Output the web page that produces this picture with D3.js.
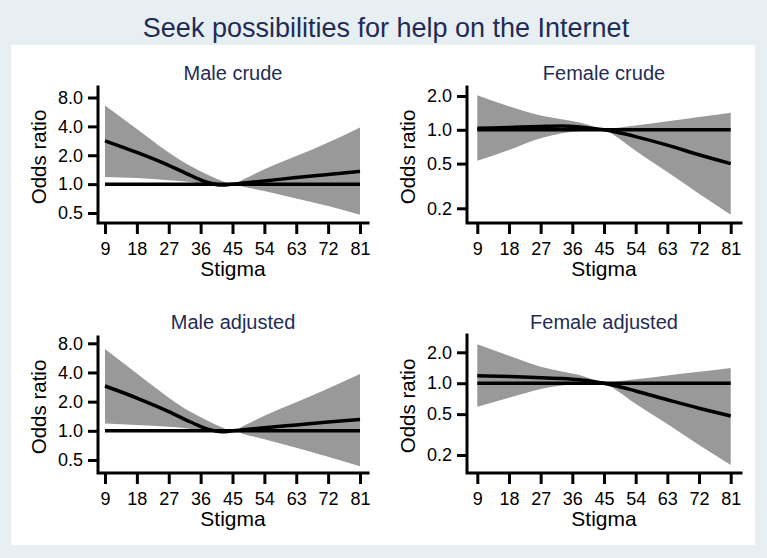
<!DOCTYPE html>
<html>
<head>
<meta charset="utf-8">
<script src="https://cdn.jsdelivr.net/npm/d3@7"></script>
<style>
  html, body { margin: 0; padding: 0; background: #e8eff2; }
  svg { display: block; }
  text { font-family: "Liberation Sans", Arial, Helvetica, sans-serif; }
</style>
</head>
<body>
<svg id="chart" width="767" height="558"></svg>
<script>
// ---------------- data ----------------
const mainTitle = "Seek possibilities for help on the Internet";
const panelTitles = ["Male crude", "Female crude", "Male adjusted", "Female adjusted"];
const xTicks = [9, 18, 27, 36, 45, 54, 63, 72, 81];
const maleYTicks = [0.5, 1, 2, 4, 8];
const femaleYTicks = [0.2, 0.5, 1, 2];
const stigma = [9, 18, 27, 33, 38, 42, 45, 48, 54, 63, 72, 81];

const maleCrudeOR = [2.83, 2.14, 1.57, 1.24, 1.04, 0.98, 1.0, 1.026, 1.08, 1.17, 1.26, 1.36];
const maleCrudeHi = [6.6, 3.76, 2.14, 1.55, 1.25, 1.08, 1.0, 1.12, 1.43, 1.96, 2.72, 3.9];
const maleCrudeLo = [1.19, 1.155, 1.1, 1.05, 0.99, 0.96, 1.0, 0.94, 0.85, 0.71, 0.59, 0.48];

const femaleCrudeOR = [1.03, 1.05, 1.07, 1.08, 1.06, 1.03, 1.0, 0.96, 0.87, 0.73, 0.6, 0.5];
const femaleCrudeHi = [2.03, 1.62, 1.34, 1.24, 1.16, 1.07, 1.0, 1.03, 1.09, 1.19, 1.3, 1.42];
const femaleCrudeLo = [0.53, 0.66, 0.84, 0.93, 0.97, 0.99, 1.0, 0.89, 0.65, 0.42, 0.27, 0.175];

const maleAdjOR = [2.9, 2.18, 1.58, 1.24, 1.04, 0.98, 1.0, 1.025, 1.075, 1.15, 1.23, 1.31];
const maleAdjHi = [7.0, 3.9, 2.2, 1.58, 1.27, 1.09, 1.0, 1.12, 1.43, 1.97, 2.73, 3.85];
const maleAdjLo = [1.19, 1.15, 1.1, 1.05, 0.99, 0.96, 1.0, 0.93, 0.82, 0.67, 0.54, 0.43];

const femaleAdjOR = [1.18, 1.16, 1.13, 1.11, 1.08, 1.04, 1.0, 0.95, 0.84, 0.69, 0.57, 0.48];
const femaleAdjHi = [2.39, 1.85, 1.45, 1.3, 1.2, 1.08, 1.0, 1.03, 1.09, 1.19, 1.29, 1.41];
const femaleAdjLo = [0.59, 0.72, 0.88, 0.95, 0.98, 0.99, 1.0, 0.88, 0.63, 0.4, 0.25, 0.16];

// ---------------- layout ----------------
const svg = d3.select("#chart");
const W = 767, H = 558;
const titleColor = "#1f2c56";

svg.append("rect").attr("x", 0).attr("y", 0).attr("width", W).attr("height", H).attr("fill", "#e8eff2");
svg.append("rect").attr("x", 11).attr("y", 45).attr("width", 744).attr("height", 500).attr("fill", "#ffffff");

svg.append("text")
  .attr("x", 386).attr("y", 37)
  .attr("text-anchor", "middle")
  .attr("fill", titleColor)
  .style("font-size", "27px")
  .text(mainTitle);

const panels = [
  { title: panelTitles[0], or: maleCrudeOR, hi: maleCrudeHi, lo: maleCrudeLo, yTicks: maleYTicks,
    axL: 98, axR: 368, x9: 105, x81: 360, top: 87, bot: 223, yLo: 0.5, yLoPx: 213, yHi: 8, yHiPx: 97.5, titleY: 80, labX: 39 },
  { title: panelTitles[1], or: femaleCrudeOR, hi: femaleCrudeHi, lo: femaleCrudeLo, yTicks: femaleYTicks,
    axL: 467, axR: 741, x9: 477.3, x81: 730.7, top: 87, bot: 223, yLo: 0.2, yLoPx: 208.3, yHi: 2, yHiPx: 96, titleY: 80, labX: 408 },
  { title: panelTitles[2], or: maleAdjOR, hi: maleAdjHi, lo: maleAdjLo, yTicks: maleYTicks,
    axL: 98, axR: 368, x9: 105, x81: 360, top: 337, bot: 473, yLo: 0.5, yLoPx: 460, yHi: 8, yHiPx: 343.3, titleY: 329, labX: 39 },
  { title: panelTitles[3], or: femaleAdjOR, hi: femaleAdjHi, lo: femaleAdjLo, yTicks: femaleYTicks,
    axL: 467, axR: 741, x9: 477.3, x81: 730.7, top: 335, bot: 473, yLo: 0.2, yLoPx: 455, yHi: 2, yHiPx: 352.3, titleY: 329, labX: 408 }
];

panels.forEach(p => {
  const g = svg.append("g");
  const x = d3.scaleLinear().domain([9, 81]).range([p.x9, p.x81]);
  const y = d3.scaleLog().domain([p.yLo, p.yHi]).range([p.yLoPx, p.yHiPx]);

  const rows = stigma.map((s, i) => ({ s, or: p.or[i], hi: p.hi[i], lo: p.lo[i] }));

  // confidence band
  const area = d3.area()
    .x(d => x(d.s)).y0(d => y(d.lo)).y1(d => y(d.hi))
    .curve(d3.curveMonotoneX);
  g.append("path").datum(rows).attr("d", area).attr("fill", "#999999").attr("stroke", "none");

  // reference line at OR = 1
  const line = d3.line().x(d => x(d.s)).y(d => y(d.v)).curve(d3.curveMonotoneX);
  g.append("path").datum(stigma.map(s => ({ s, v: 1 })))
    .attr("d", line).attr("fill", "none").attr("stroke", "#000").attr("stroke-width", 3.5);

  // OR curve
  g.append("path").datum(rows.map(d => ({ s: d.s, v: d.or })))
    .attr("d", line).attr("fill", "none").attr("stroke", "#000").attr("stroke-width", 3.5)
    .attr("stroke-linejoin", "round");

  // y axis
  const yAxis = d3.axisLeft(y).tickValues(p.yTicks).tickFormat(d3.format(".1f"))
    .tickSize(10).tickPadding(5);
  const ya = g.append("g").attr("transform", `translate(${p.axL},0)`).call(yAxis);
  ya.select(".domain").remove();
  ya.selectAll(".tick line").attr("stroke", "#000").attr("stroke-width", 3);
  ya.selectAll(".tick text").attr("fill", "#000").style("font-size", "18px")
    .style("font-family", "'Liberation Sans', Arial, sans-serif");

  // x axis
  const xAxis = d3.axisBottom(x).tickValues(xTicks).tickFormat(d3.format("d"))
    .tickSize(11).tickPadding(8);
  const xa = g.append("g").attr("transform", `translate(0,${p.bot})`).call(xAxis);
  xa.select(".domain").remove();
  xa.selectAll(".tick line").attr("stroke", "#000").attr("stroke-width", 3);
  xa.selectAll(".tick text").attr("fill", "#000").style("font-size", "18px")
    .style("font-family", "'Liberation Sans', Arial, sans-serif");

  // axis lines
  g.append("path")
    .attr("d", `M${p.axL},${p.top}V${p.bot}H${p.axR}`)
    .attr("fill", "none").attr("stroke", "#000").attr("stroke-width", 3)
    .attr("stroke-linejoin", "miter").attr("stroke-linecap", "square");

  // titles
  g.append("text")
    .attr("x", (p.axL + p.axR) / 2).attr("y", p.titleY)
    .attr("text-anchor", "middle").attr("fill", titleColor)
    .style("font-size", "20px").text(p.title);

  g.append("text")
    .attr("x", (p.axL + p.axR) / 2).attr("y", p.bot + 53)
    .attr("text-anchor", "middle").attr("fill", "#000")
    .style("font-size", "21px").text("Stigma");

  g.append("text")
    .attr("transform", `translate(${p.labX + 7},${(p.top + p.bot) / 2 + 2}) rotate(-90)`)
    .attr("text-anchor", "middle").attr("fill", "#000")
    .style("font-size", "20.5px").text("Odds ratio");
});
</script>
</body>
</html>
